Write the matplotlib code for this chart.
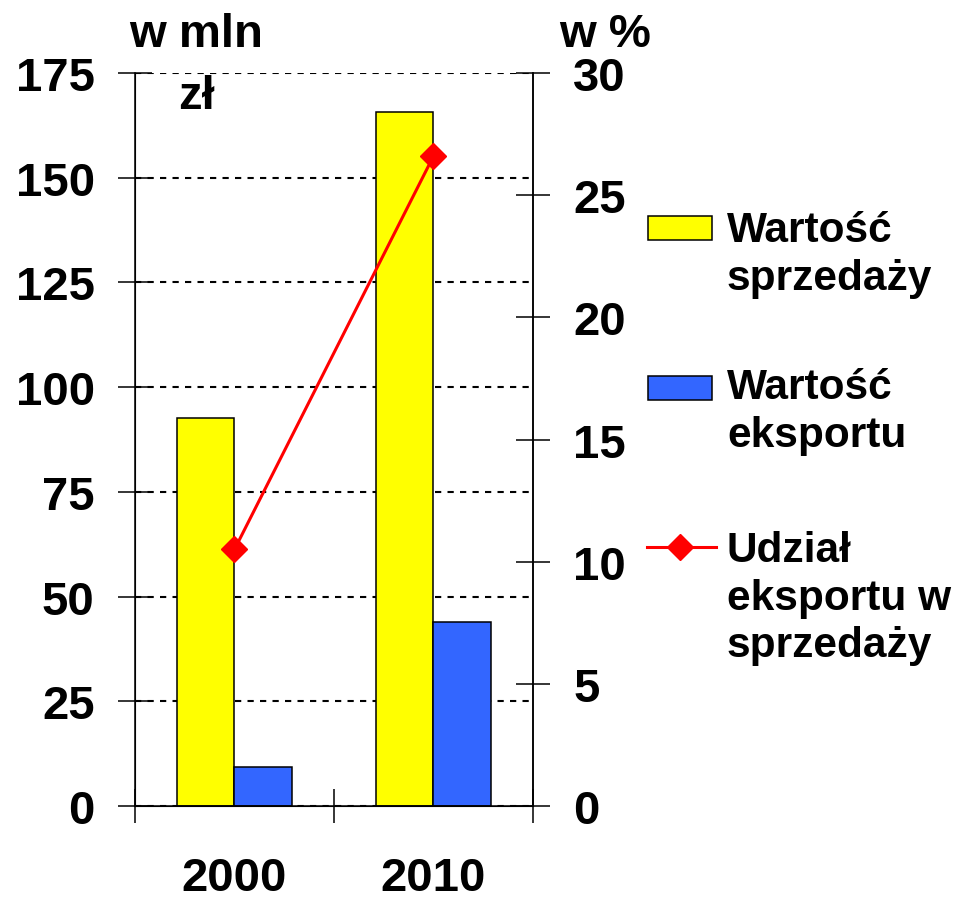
import matplotlib
matplotlib.use("Agg")
import matplotlib.pyplot as plt
from matplotlib.patches import Rectangle
from matplotlib.lines import Line2D

plt.rcParams['font.family'] = ['Liberation Sans', 'DejaVu Sans']
plt.rcParams['font.weight'] = 'bold'

years = ["2000", "2010"]
sales = [92.6, 165.6]      # Wartość sprzedaży, w mln zł
export = [9.3, 43.9]       # Wartość eksportu, w mln zł
share = [10.5, 26.6]       # Udział eksportu w sprzedaży, w %
left_ticks = [0, 25, 50, 75, 100, 125, 150, 175]
right_ticks = [0, 5, 10, 15, 20, 25, 30]

YELLOW = "#FFFF00"
BLUE = "#3366FF"
RED = "#FF0000"
TICK_FS = 34
LEG_FS = 30.5

fig = plt.figure(figsize=(9.56, 9.04), dpi=100)
ax = fig.add_axes([0.1412, 0.1073, 0.4163, 0.8108])
x = range(len(years))
w = 0.29
ax.bar([i - w / 2 for i in x], sales, width=w, color=YELLOW, edgecolor="black", linewidth=1.1, zorder=2)
ax.bar([i + w / 2 for i in x], export, width=w, color=BLUE, edgecolor="black", linewidth=1.1, zorder=2)

ax.set_xlim(-0.5, len(years) - 0.5)
ax.set_ylim(0, 175)
ax.set_yticks(left_ticks)
ax.set_xticks(list(x))
ax.set_xticklabels(years)
ax.set_xticks([-0.5, 0.5, 1.5], minor=True)
ax.yaxis.grid(True, color="black", linewidth=1.5, linestyle=(0, (3, 3)), zorder=0)
ax.set_axisbelow(True)
ax.spines["top"].set_visible(False)
for s in ("left", "right", "bottom"):
    ax.spines[s].set_linewidth(1.1)
ax.tick_params(axis="y", direction="inout", length=24, width=1.1, pad=17, labelsize=TICK_FS)
ax.tick_params(axis="x", which="major", length=0, pad=36, labelsize=TICK_FS)
ax.tick_params(axis="x", which="minor", direction="inout", length=24, width=1.1)

ax2 = ax.twinx()
ax2.plot(list(x), share, color=RED, linewidth=2.2, marker="D", markersize=13, zorder=3)
ax2.set_ylim(0, 30)
ax2.set_yticks(right_ticks)
ax2.spines["top"].set_visible(False)
ax2.spines["right"].set_linewidth(1.1)
ax2.tick_params(axis="y", direction="inout", length=24, width=1.1, pad=17, labelsize=TICK_FS)

# overlay in pixel coordinates for unit captions and legend
lax = fig.add_axes([0, 0, 1, 1])
lax.set_xlim(0, 956)
lax.set_ylim(904, 0)
lax.axis("off")

lax.text(196, 47, "w mln", ha="center", va="baseline", fontsize=34)
lax.text(196, 109, "zł", ha="center", va="baseline", fontsize=34)
lax.text(605, 47, "w %", ha="center", va="baseline", fontsize=34)

lax.add_patch(Rectangle((648, 217), 64, 24, facecolor=YELLOW, edgecolor="black", linewidth=1.1))
lax.add_patch(Rectangle((648, 377), 64, 24, facecolor=BLUE, edgecolor="black", linewidth=1.1))
lax.add_line(Line2D([647, 716], [548, 548], color=RED, linewidth=2.2))
lax.add_line(Line2D([680], [548], color=RED, marker="D", markersize=13))
legend_lines = [("Wartość", 242), ("sprzedaży", 290),
                ("Wartość", 399), ("eksportu", 447),
                ("Udział", 562), ("eksportu w", 610), ("sprzedaży", 657)]
for txt, yb in legend_lines:
    lax.text(727, yb, txt, ha="left", va="baseline", fontsize=LEG_FS)

fig.savefig("out.png", dpi=100)
